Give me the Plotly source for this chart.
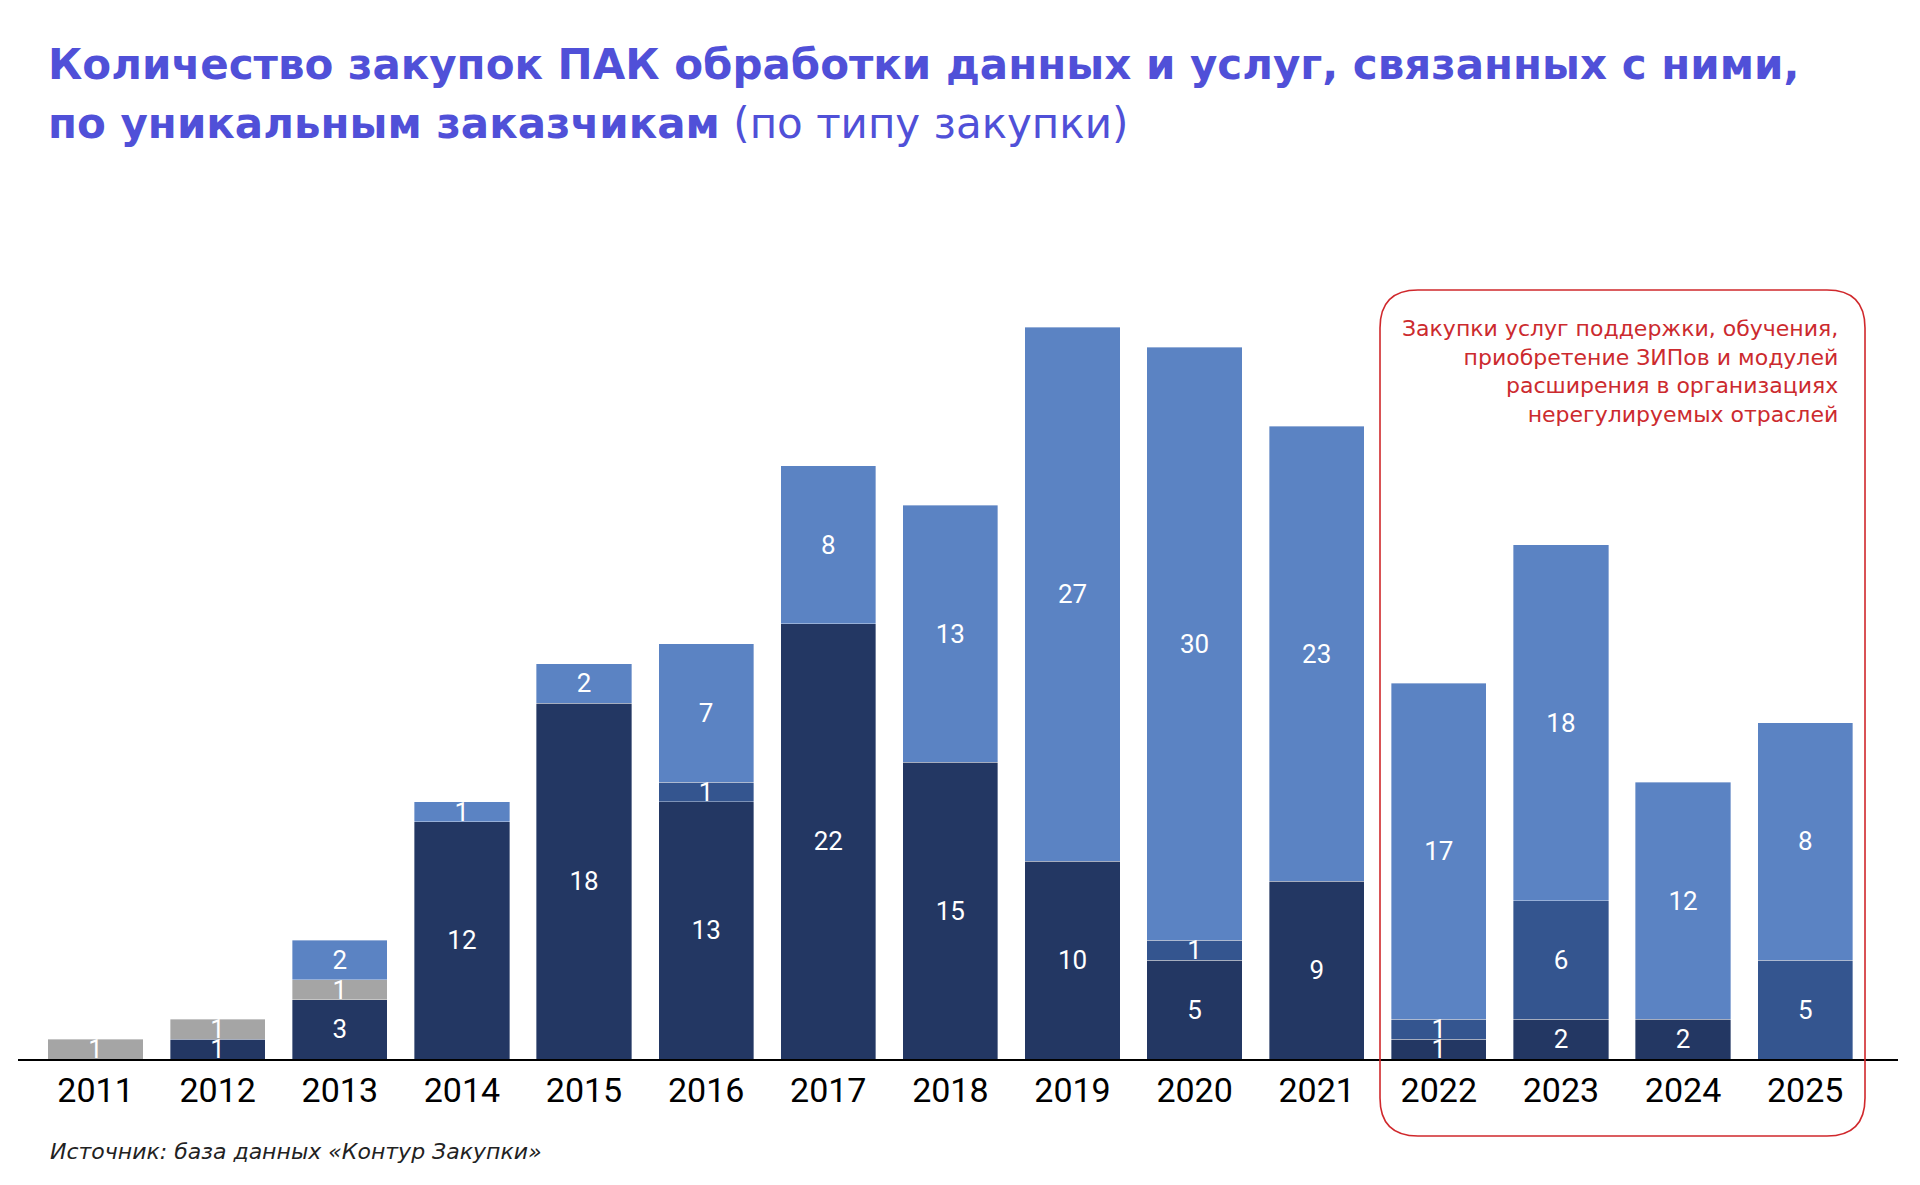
import plotly.graph_objects as go

years = ["2011", "2012", "2013", "2014", "2015", "2016", "2017", "2018",
         "2019", "2020", "2021", "2022", "2023", "2024", "2025"]
dark_vals   = [0, 1, 3, 12, 18, 13, 22, 15, 10, 5, 9, 1, 2, 2, 0]
medium_vals = [0, 0, 0, 0, 0, 1, 0, 0, 0, 1, 0, 1, 6, 0, 5]
gray_vals   = [1, 1, 1, 0, 0, 0, 0, 0, 0, 0, 0, 0, 0, 0, 0]
# bar heights as drawn in the picture (2025 light segment drawn 12 units tall)
light_vals  = [0, 0, 2, 1, 2, 7, 8, 13, 27, 30, 23, 17, 18, 12, 12]
# labels as printed on the picture
light_labels = ["", "", "2", "1", "2", "7", "8", "13", "27", "30", "23", "17", "18", "12", "8"]

def labels_of(vals):
    return [str(v) if v else "" for v in vals]

series = [
    ("dark", dark_vals, labels_of(dark_vals), "#233763"),
    ("medium", medium_vals, labels_of(medium_vals), "#34558f"),
    ("gray", gray_vals, labels_of(gray_vals), "#a5a5a5"),
    ("light", light_vals, light_labels, "#5b83c3"),
]

FONT = "Roboto"
WIDE = "DejaVu Sans"
fig = go.Figure()
for name, vals, labs, color in series:
    fig.add_trace(go.Bar(
        x=years,
        y=[v if v else None for v in vals],
        name=name,
        marker=dict(color=color, line=dict(color="rgba(255,255,255,0.6)", width=0.6)),
        text=labs,
        textposition="inside",
        insidetextanchor="middle",
        textangle=0,
        textfont=dict(color="white", size=26, family=FONT),
        hoverinfo="skip",
    ))

W, H = 1920, 1185
L, R, T, B = 18, 22, 268, 126
pw, ph = W - L - R, H - T - B

fig.update_layout(
    width=W, height=H,
    barmode="stack",
    bargap=0.22,
    showlegend=False,
    plot_bgcolor="white",
    paper_bgcolor="white",
    margin=dict(l=L, r=R, t=T, b=B),
    uniformtext=dict(minsize=26, mode="show"),
    font=dict(family=FONT),
    xaxis=dict(
        type="category",
        range=[-0.635, 14.76],
        showline=True, linecolor="black", linewidth=2,
        showgrid=False, zeroline=False, ticks="",
        tickfont=dict(size=34, color="black", family=FONT),
    ),
    yaxis=dict(visible=False, range=[0, 40]),
)

def ypx(yp):
    return ((H - B) - yp) / ph

def xpx(xp):
    return (xp - L) / pw

# Title (two lines)
fig.add_annotation(
    xref="paper", yref="paper", x=xpx(46), y=ypx(64),
    xanchor="left", yanchor="middle", showarrow=False,
    text="<b>Количество закупок ПАК обработки данных и услуг, связанных с ними,</b>",
    font=dict(size=42, color="#5050d8", family=WIDE),
)
fig.add_annotation(
    xref="paper", yref="paper", x=xpx(46), y=ypx(123),
    xanchor="left", yanchor="middle", showarrow=False,
    text="<b>по уникальным заказчикам</b> (по типу закупки)",
    font=dict(size=42, color="#5050d8", family=WIDE),
)

# Source
fig.add_annotation(
    xref="paper", yref="paper", x=xpx(48), y=ypx(1151),
    xanchor="left", yanchor="middle", showarrow=False,
    text="<i>Источник: база данных «Контур Закупки»</i>",
    font=dict(size=22, color="#222222", family=WIDE),
)

# Note in red box
fig.add_annotation(
    xref="paper", yref="paper", x=xpx(1840), y=ypx(314),
    xanchor="right", yanchor="top", align="right", showarrow=False,
    text="Закупки услуг поддержки, обучения,<br>приобретение ЗИПов и модулей<br>"
         "расширения в организациях<br>нерегулируемых отраслей",
    font=dict(size=22, color="#cc2a2e", family=WIDE),
)

# Rounded red box (paper coords)
def P(xp, yp):
    return f"{xpx(xp):.5f},{ypx(yp):.5f}"

x0p, x1p, y0p, y1p, r = 1380, 1865, 290, 1136, 38
path = (f"M {P(x0p + r, y0p)} L {P(x1p - r, y0p)} Q {P(x1p, y0p)} {P(x1p, y0p + r)} "
        f"L {P(x1p, y1p - r)} Q {P(x1p, y1p)} {P(x1p - r, y1p)} "
        f"L {P(x0p + r, y1p)} Q {P(x0p, y1p)} {P(x0p, y1p - r)} "
        f"L {P(x0p, y0p + r)} Q {P(x0p, y0p)} {P(x0p + r, y0p)} Z")
fig.add_shape(type="path", xref="paper", yref="paper", path=path,
              line=dict(color="#d0282c", width=1.6), layer="above")

fig.write_html("out.html")
